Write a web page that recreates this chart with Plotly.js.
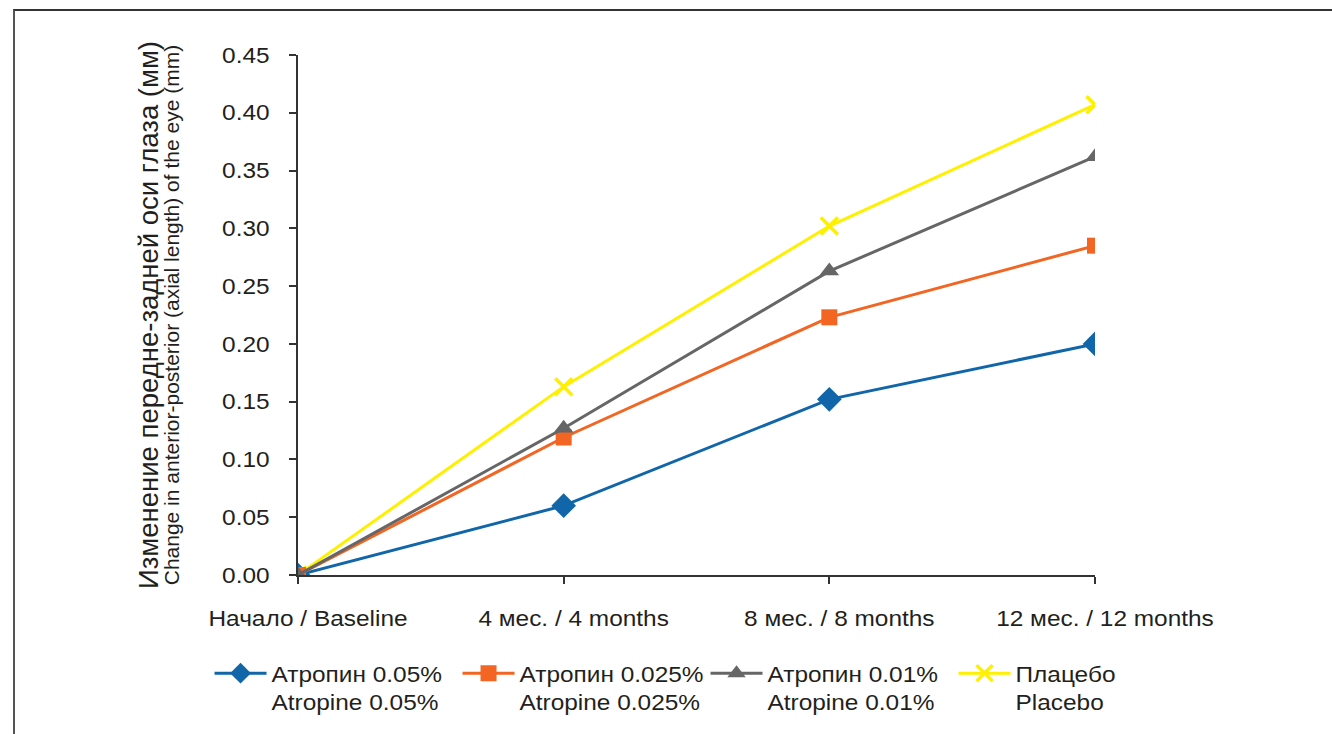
<!DOCTYPE html>
<html>
<head>
<meta charset="utf-8">
<script src="https://cdn.plot.ly/plotly-3.0.1.min.js"></script>
<style>
  html, body { margin: 0; padding: 0; background: #fff; }
  #wrap { position: relative; width: 1332px; height: 734px; overflow: hidden; }
  #chart { position: absolute; left: 0; top: 0; width: 1332px; height: 734px; }
  #frame { position: absolute; left: 13px; top: 9px; right: -2px; bottom: -2px;
           border-left: 2px solid #555; border-top: 2px solid #333; pointer-events: none; }
</style>
</head>
<body>
<div id="wrap">
  <div id="chart"></div>
  <div id="frame"></div>
</div>
<script>
// Time points of the follow-up
const timepoints = ['Начало / Baseline', '4 мес. / 4 months', '8 мес. / 8 months', '12 мес. / 12 months'];

// Mean change in axial length, mm
const atropine005 = [0.000, 0.060, 0.152, 0.200];
const atropine0025 = [0.000, 0.119, 0.223, 0.285];
const atropine001 = [0.000, 0.127, 0.263, 0.362];
const placebo = [0.000, 0.163, 0.302, 0.407];

const seriesNames = [
  'Атропин 0.05%<br>Atropine 0.05%',
  'Атропин 0.025%<br>Atropine 0.025%',
  'Атропин 0.01%<br>Atropine 0.01%',
  'Плацебо<br>Placebo'
];

const yTitleRu = 'Изменение передне-задней оси глаза (мм)';
const yTitleEn = 'Change in anterior-posterior (axial length) of the eye (mm)';

const font = 'Liberation Sans, Arial, sans-serif';
const ink = '#231f20';
const textStretch = 1.11;   // slightly wide lettering

// Placebo is drawn first so its markers sit under the others
const traces = [
  {
    x: timepoints, y: placebo, name: seriesNames[3], legendrank: 4,
    mode: 'lines+markers', type: 'scatter',
    line: { color: '#fff000', width: 3 },
    marker: { symbol: 'x-thin-open', size: 17, color: '#fff000', line: { color: '#fff000', width: 3.5 } }
  },
  {
    x: timepoints, y: atropine005, name: seriesNames[0], legendrank: 1,
    mode: 'lines+markers', type: 'scatter',
    line: { color: '#1166aa', width: 3 },
    marker: { symbol: 'diamond', size: 19, color: '#1166aa' }
  },
  {
    x: timepoints, y: atropine0025, name: seriesNames[1], legendrank: 2,
    mode: 'lines+markers', type: 'scatter',
    line: { color: '#f26522', width: 3 },
    marker: { symbol: 'square', size: 16, color: '#f26522' }
  },
  {
    x: timepoints, y: atropine001, name: seriesNames[2], legendrank: 3,
    mode: 'lines+markers', type: 'scatter',
    line: { color: '#666666', width: 3 },
    marker: { symbol: 'triangle-up', size: 17, color: '#666666' }
  }
];

const layout = {
  width: 1332, height: 734,
  margin: { l: 298, r: 237, t: 55, b: 158, pad: 0 },
  paper_bgcolor: '#ffffff', plot_bgcolor: '#ffffff',
  font: { family: font, color: ink, size: 22 },
  showlegend: true,
  legend: {
    orientation: 'h', x: -0.111, xanchor: 'left', y: -0.1465, yanchor: 'top',
    font: { family: font, size: 22, color: ink },
    valign: 'top', itemwidth: 52, entrywidth: 181, tracegroupgap: 0
  },
  xaxis: {
    type: 'category', range: [0, 3],
    showgrid: false, zeroline: false,
    showline: true, linecolor: '#333333', linewidth: 2,
    ticks: 'outside', ticklen: 7, tickwidth: 2, tickcolor: '#333333',
    ticklabelstandoff: 16,
    tickfont: { family: font, size: 22, color: ink }
  },
  yaxis: {
    range: [0, 0.45], dtick: 0.05, tick0: 0, tickformat: '.2f',
    showgrid: false, zeroline: false,
    showline: true, linecolor: '#333333', linewidth: 2,
    ticks: 'outside', ticklen: 7, tickwidth: 2, tickcolor: '#333333',
    ticklabelstandoff: 15,
    tickfont: { family: font, size: 22, color: ink }
  },
  annotations: [
    {
      xref: 'paper', yref: 'paper', x: -0.1882, y: 0.5,
      xanchor: 'center', yanchor: 'middle', textangle: -90, showarrow: false,
      text: yTitleRu, font: { family: font, size: 27.5, color: ink }
    },
    {
      xref: 'paper', yref: 'paper', x: -0.159, y: 0.5,
      xanchor: 'center', yanchor: 'middle', textangle: -90, showarrow: false,
      text: yTitleEn, font: { family: font, size: 21, color: ink }
    }
  ]
};

// Widen horizontal lettering around each label's own anchor point
function widenText(selector, sx, dx) {
  document.querySelectorAll(selector).forEach(function (t) {
    const x = parseFloat(t.getAttribute('x')) || 0;
    const y = parseFloat(t.getAttribute('y')) || 0;
    const prev = t.getAttribute('transform') || '';
    t.setAttribute('transform',
      prev + ' translate(' + (x + dx) + ',' + y + ') scale(' + sx + ',1) translate(' + (-x) + ',' + (-y) + ')');
  });
}

Plotly.newPlot('chart', traces, layout, { displayModeBar: false, staticPlot: true }).then(function () {
  widenText('#chart .xtick text', textStretch, 10);
  widenText('#chart .ytick text', textStretch, 0);
  widenText('#chart .legend text.legendtext', textStretch, 0);
});
</script>
</body>
</html>
